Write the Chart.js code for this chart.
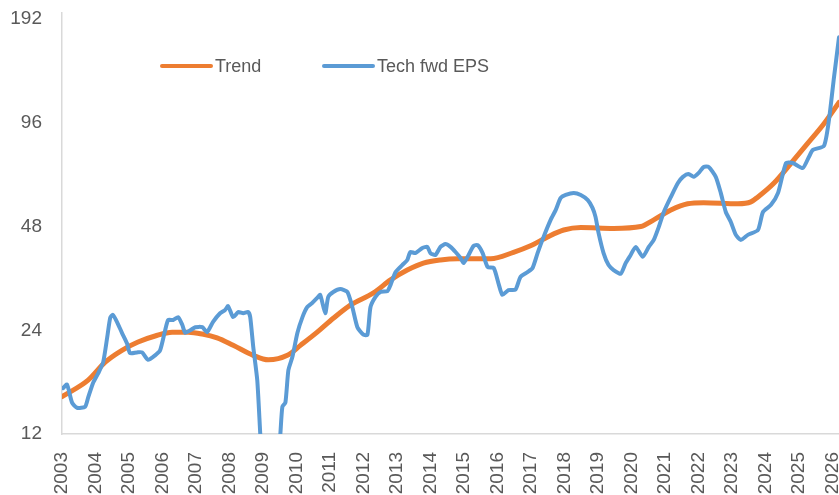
<!DOCTYPE html>
<html lang="en">
<head>
    <meta charset="UTF-8">
    <title>Tech fwd EPS vs Trend</title>
    <script src="https://cdn.jsdelivr.net/npm/chart.js"></script>
    <style>
        html, body { margin: 0; padding: 0; background: #ffffff; }
        #wrap { width: 839px; height: 495px; }
    </style>
</head>
<body>
    <div id="wrap"><canvas id="epsChart" width="839" height="495"></canvas></div>

    <script>
        // tick labels
        const yearTicks = [2003, 2004, 2005, 2006, 2007, 2008, 2009, 2010, 2011, 2012, 2013, 2014,
                           2015, 2016, 2017, 2018, 2019, 2020, 2021, 2022, 2023, 2024, 2025, 2026];
        const yTicks = [12, 24, 48, 96, 192];

        // Trend (orange)
        const trendYears = [2003.0, 2003.78, 2004.29, 2004.79, 2005.27, 2005.78, 2006.29, 2006.77, 2007.19, 2007.63,
                            2008.11, 2008.71, 2009.16, 2009.73, 2010.12, 2010.62, 2011.10, 2011.61, 2012.30, 2012.81,
                            2013.31, 2013.79, 2014.30, 2014.81, 2015.80, 2016.48, 2016.99, 2017.50, 2017.98, 2018.49,
                            2019.47, 2020.28, 2020.67, 2021.18, 2021.68, 2022.16, 2023.18, 2023.57, 2023.78, 2024.26,
                            2024.76, 2025.27, 2025.75, 2026.2];
        const trendValues = [15.4, 17.2, 19.4, 21.0, 22.2, 23.1, 23.7, 23.7, 23.4, 22.8,
                             21.7, 20.3, 19.7, 20.3, 21.7, 23.7, 26.0, 28.4, 30.8, 33.6,
                             35.9, 37.6, 38.4, 38.7, 38.7, 40.4, 42.2, 44.8, 46.9, 47.7,
                             47.4, 48.0, 50.2, 53.6, 55.9, 56.3, 55.9, 56.6, 58.5, 64.2,
                             73.1, 83.8, 95.4, 110];

        // Tech fwd EPS (blue)
        const epsYears = [2003.03, 2003.15, 2003.30, 2003.45, 2003.69, 2003.78, 2003.93, 2004.08, 2004.23, 2004.35,
                          2004.44, 2004.52, 2004.64, 2004.79, 2004.94, 2005.03, 2005.24, 2005.39, 2005.57, 2005.78,
                          2005.93, 2006.08, 2006.17, 2006.32, 2006.47, 2006.59, 2006.68, 2006.83, 2006.98, 2007.19,
                          2007.33, 2007.51, 2007.72, 2007.87, 2007.96, 2008.11, 2008.26, 2008.41, 2008.56, 2008.62,
                          2008.71, 2008.83, 2008.92, 2009.00, 2009.15, 2009.35, 2009.45, 2009.52, 2009.58, 2009.67,
                          2009.76, 2009.88, 2010.03, 2010.18, 2010.32, 2010.47, 2010.62, 2010.71, 2010.86, 2010.95,
                          2011.10, 2011.31, 2011.52, 2011.67, 2011.82, 2012.00, 2012.12, 2012.21, 2012.36, 2012.51,
                          2012.72, 2012.81, 2012.96, 2013.16, 2013.31, 2013.40, 2013.55, 2013.76, 2013.91, 2014.00,
                          2014.15, 2014.30, 2014.45, 2014.60, 2014.75, 2014.90, 2014.99, 2015.14, 2015.29, 2015.41,
                          2015.56, 2015.71, 2015.89, 2016.03, 2016.15, 2016.33, 2016.54, 2016.69, 2016.90, 2017.05,
                          2017.20, 2017.38, 2017.59, 2017.74, 2017.89, 2018.04, 2018.28, 2018.49, 2018.70, 2018.84,
                          2018.93, 2019.02, 2019.17, 2019.32, 2019.47, 2019.68, 2019.83, 2019.98, 2020.13, 2020.34,
                          2020.52, 2020.67, 2020.82, 2020.97, 2021.18, 2021.39, 2021.54, 2021.71, 2021.86, 2022.01,
                          2022.16, 2022.31, 2022.52, 2022.67, 2022.82, 2022.97, 2023.12, 2023.27, 2023.48, 2023.78,
                          2023.93, 2024.17, 2024.38, 2024.62, 2024.82, 2025.12, 2025.30, 2025.42, 2025.75, 2025.90,
                          2026.05, 2026.20];
        const epsValues = [16.3, 16.7, 14.8, 14.3, 14.4, 15.3, 16.9, 18.0, 19.4, 22.9,
                           26.1, 26.6, 25.4, 23.6, 22.0, 20.6, 20.7, 20.7, 19.7, 20.3,
                           21.0, 24.0, 25.7, 25.7, 26.2, 24.9, 23.6, 24.0, 24.5, 24.5,
                           23.7, 25.4, 26.9, 27.5, 28.2, 26.2, 27.1, 26.9, 27.1, 26.2,
                           21.5, 17.2, 12.0, 9.0, 8.0, 8.2, 10.0, 12.0, 14.4, 14.8,
                           18.4, 20.1, 23.6, 26.2, 28.0, 28.8, 29.8, 30.4, 26.9, 30.0,
                           31.0, 31.6, 31.0, 28.0, 24.5, 23.3, 23.3, 28.0, 30.0, 31.0,
                           31.2, 32.5, 35.4, 37.1, 38.4, 40.5, 40.2, 41.6, 41.9, 40.2,
                           39.7, 41.9, 42.7, 41.9, 40.5, 38.9, 37.6, 39.7, 42.2, 42.4,
                           40.2, 36.6, 36.4, 32.9, 30.4, 31.4, 31.5, 34.3, 35.4, 36.4,
                           40.2, 44.8, 50.2, 53.6, 58.1, 59.3, 60.1, 59.3, 57.3, 54.4,
                           51.2, 46.0, 40.2, 37.1, 35.9, 35.0, 37.6, 39.7, 41.9, 39.2,
                           41.9, 43.9, 47.9, 52.9, 58.5, 64.2, 66.9, 68.2, 66.9, 68.7,
                           71.5, 71.5, 66.9, 60.1, 52.9, 49.5, 45.4, 43.9, 45.4, 46.9,
                           52.9, 55.5, 60.1, 73.4, 73.4, 71.0, 76.4, 80.1, 82.3, 97.9,
                           130, 170];

        const ORANGE = '#ED7D31';
        const BLUE = '#5B9BD5';
        const TEXT = '#595959';
        const AXIS = '#D9D9D9';
        const FONT = 'Liberation Sans, Arial, sans-serif';

        const toPoints = (xs, ys) => xs.map((x, i) => ({ x: x, y: ys[i] }));

        // Excel-style legend sitting inside the plot area
        const insideLegend = {
            id: 'insideLegend',
            afterDraw(chart) {
                const ctx = chart.ctx;
                const area = chart.chartArea;
                const y = area.top + 53;
                let x = area.left + 100;
                ctx.save();
                ctx.font = '18px ' + FONT;
                ctx.textBaseline = 'middle';
                ctx.fillStyle = TEXT;
                chart.data.datasets.slice().sort((a, b) => a.legendIndex - b.legendIndex).forEach(ds => {
                    ctx.strokeStyle = ds.borderColor;
                    ctx.lineWidth = 4;
                    ctx.lineCap = 'round';
                    ctx.beginPath();
                    ctx.moveTo(x, y);
                    ctx.lineTo(x + 49, y);
                    ctx.stroke();
                    ctx.fillText(ds.label, x + 53, y + 1);
                    x += 162;
                });
                ctx.restore();
            }
        };

        const ctx = document.getElementById('epsChart').getContext('2d');

        const epsChart = new Chart(ctx, {
            type: 'line',
            data: {
                datasets: [{
                    label: 'Trend',
                    legendIndex: 0,
                    data: toPoints(trendYears, trendValues),
                    borderColor: ORANGE,
                    borderWidth: 5,
                    cubicInterpolationMode: 'monotone',
                    pointRadius: 0,
                    borderCapStyle: 'round',
                    borderJoinStyle: 'round',
                    clip: 0,
                    order: 1
                }, {
                    label: 'Tech fwd EPS',
                    legendIndex: 1,
                    data: toPoints(epsYears, epsValues),
                    borderColor: BLUE,
                    borderWidth: 4,
                    tension: 0.2,
                    pointRadius: 0,
                    borderCapStyle: 'round',
                    borderJoinStyle: 'round',
                    clip: 0,
                    order: 0
                }]
            },
            options: {
                responsive: false,
                animation: false,
                layout: { padding: { top: 13, right: 0, left: 0, bottom: 0 } },
                plugins: {
                    legend: { display: false },
                    tooltip: { enabled: false }
                },
                scales: {
                    x: {
                        type: 'linear',
                        min: 2003,
                        max: 2026.2,
                        grid: { display: false },
                        border: { color: AXIS, width: 1.5 },
                        ticks: {
                            autoSkip: false,
                            minRotation: 90,
                            maxRotation: 90,
                            padding: 10,
                            color: TEXT,
                            font: { family: FONT, size: 19 },
                            callback: v => String(v)
                        },
                        afterBuildTicks: scale => {
                            scale.ticks = yearTicks.map(v => ({ value: v }));
                        },
                        afterFit: scale => {
                            scale.height = 61;
                            scale.paddingLeft = 0;
                            scale.paddingRight = 0;
                        }
                    },
                    y: {
                        type: 'logarithmic',
                        min: 12,
                        max: 200,
                        grid: { display: false },
                        border: { color: AXIS, width: 1.5 },
                        ticks: {
                            padding: 12,
                            color: TEXT,
                            font: { family: FONT, size: 19 },
                            callback: v => String(v)
                        },
                        afterBuildTicks: scale => {
                            scale.ticks = yTicks.map(v => ({ value: v }));
                        },
                        afterFit: scale => {
                            scale.width = 62;
                            scale.paddingTop = 0;
                            scale.paddingBottom = 0;
                        }
                    }
                }
            },
            plugins: [insideLegend]
        });
    </script>
</body>
</html>
